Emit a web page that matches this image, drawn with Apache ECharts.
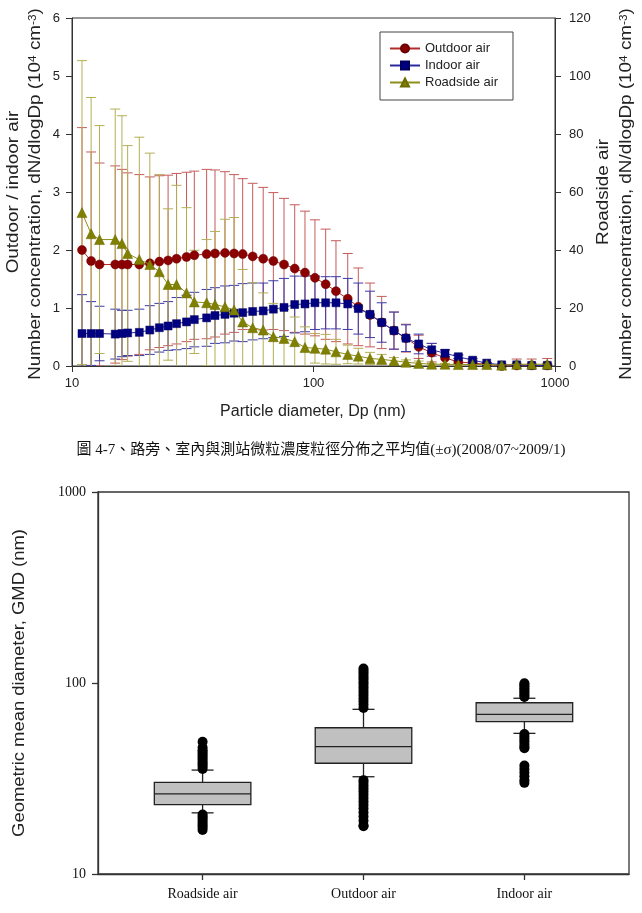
<!DOCTYPE html>
<html>
<head>
<meta charset="utf-8">
<script src="https://cdn.jsdelivr.net/npm/echarts@6/dist/echarts.min.js"></script>
<style>
  html, body { margin: 0; padding: 0; background: #fff; }
  #main { width: 642px; height: 913px; }
</style>
</head>
<body>
<div id="main"></div>
<script>
// 粒徑 (nm)
var diameters = [11.0, 12.0, 13.0, 15.1, 16.1, 17.0, 19.0, 21.0, 23.0, 25.0, 27.1, 29.8, 32.1, 36.1, 39.1,
  43.0, 46.9, 50.9, 56.0, 61.9, 68.2, 75.5, 83.6, 92.2, 101.4, 112.3, 123.9, 138.6, 153.3, 171.4,
  191.6, 215.4, 241.5, 272.6, 308.6, 350.4, 397.8, 456.0, 521.6, 601.6, 694.1, 800.8, 929.0];

// 10^4 cm^-3, left axis
var outdoorMean = [2.00, 1.81, 1.75, 1.75, 1.75, 1.75, 1.75, 1.77, 1.80, 1.82, 1.85, 1.88, 1.91, 1.93, 1.94,
  1.95, 1.94, 1.93, 1.89, 1.85, 1.81, 1.75, 1.68, 1.61, 1.52, 1.41, 1.29, 1.16, 1.02, 0.88,
  0.75, 0.61, 0.48, 0.33, 0.23, 0.14, 0.07, 0.05, 0.03, 0.00, 0.01, 0.01, 0.01];
var outdoorSd = [2.11, 1.88, 1.75, 1.70, 1.64, 1.58, 1.55, 1.49, 1.48, 1.47, 1.47, 1.46, 1.45, 1.46, 1.44,
  1.40, 1.36, 1.30, 1.26, 1.23, 1.18, 1.14, 1.10, 1.06, 1.00, 0.95, 0.87, 0.78, 0.67, 0.55,
  0.45, 0.32, 0.24, 0.20, 0.16, 0.14, 0.12, 0.05, 0.03, 0.02, 0.11, 0.11, 0.12];
var indoorMean = [0.56, 0.56, 0.56, 0.55, 0.56, 0.57, 0.58, 0.62, 0.66, 0.69, 0.73, 0.76, 0.80, 0.83, 0.87,
  0.89, 0.91, 0.92, 0.94, 0.95, 0.98, 1.01, 1.06, 1.07, 1.09, 1.09, 1.09, 1.07, 0.99, 0.89,
  0.75, 0.61, 0.48, 0.38, 0.28, 0.22, 0.16, 0.10, 0.05, 0.02, 0.02, 0.01, 0.01];
var indoorSd = [0.67, 0.55, 0.47, 0.43, 0.40, 0.39, 0.40, 0.42, 0.42, 0.42, 0.45, 0.46, 0.47, 0.49, 0.48,
  0.49, 0.48, 0.50, 0.49, 0.48, 0.49, 0.50, 0.49, 0.48, 0.46, 0.45, 0.45, 0.44, 0.44, 0.40,
  0.34, 0.32, 0.23, 0.17, 0.11, 0.06, 0.03, 0.03, 0.01, 0.01, 0.01, 0.01, 0.01];
// right axis
var roadsideMean = [52.9, 45.6, 43.6, 43.6, 42.2, 38.8, 36.7, 35.0, 32.5, 28.1, 28.1, 25.2, 22.1, 21.8, 21.2,
  20.4, 19.3, 15.2, 13.2, 12.4, 10.1, 9.5, 8.4, 6.4, 6.1, 5.8, 4.9, 4.0, 3.4, 2.6,
  2.3, 1.8, 1.3, 0.9, 0.6, 0.6, 0.5, 0.5, 0.5, 0.3, 0.6, 0.6, 0.6];
var roadsideSd = [52.4, 47.0, 39.3, 45.0, 44.1, 37.2, 42.2, 38.4, 33.5, 26.1, 34.2, 29.4, 17.8, 21.8, 25.2,
  30.2, 31.9, 18.1, 15.5, 12.8, 11.5, 10.0, 8.5, 7.1, 5.1, 5.1, 4.3, 3.2, 2.7, 2.1,
  1.7, 1.1, 0.8, 0.8, 0.3, 0.3, 0.3, 0.3, 0.3, 0.3, 0.3, 0.3, 0.3];

// box plot (GMD, nm)
var boxCategories = ['Roadside air', 'Outdoor air', 'Indoor air'];
// [下鬚, Q1, 中位數, Q3, 上鬚]
var roadsideBox = [20.9, 23.1, 26.3, 30.2, 35.0];
var outdoorBox = [32.3, 38.0, 46.4, 58.3, 72.8];
var indoorBox = [54.5, 62.7, 68.5, 78.8, 83.2];
var roadsideOutliers = [35.5, 36.5, 37.5, 38.5, 39.5, 40.5, 41.5, 42.5, 43.5, 44.5, 46, 49.3,
  20.5, 20, 19.5, 19, 18.5, 18, 17.5, 17];
var outdoorOutliers = [74, 77, 80, 83, 86, 89, 92, 95, 98, 101, 104, 107, 110, 113, 116, 119,
  31, 30, 29, 28, 27, 26, 25, 24, 23, 22, 21, 20, 19, 18, 17.8];
var indoorOutliers = [84.5, 86, 88, 90, 92, 94, 96, 98, 99.6,
  54, 52.5, 51, 49.5, 48, 46.5, 45.5,
  37, 35.5, 34, 32.5, 31, 30];

var sans = '"Liberation Sans", Arial, sans-serif';
var serif = '"Liberation Serif", "Times New Roman", serif';
var axisColor = '#333';

function errData(mean, sd) {
  return diameters.map(function (d, i) { return [d, mean[i] - sd[i], mean[i] + sd[i]]; });
}
function lineData(mean) {
  return diameters.map(function (d, i) { return [d, mean[i]]; });
}
function plainNum(v) { return String(v); }

function errRender(color) {
  return function (params, api) {
    var x = api.value(0);
    var top = api.coord([x, api.value(2)]);
    var bot = api.coord([x, api.value(1)]);
    var w = 5;
    var st = { stroke: color, lineWidth: 1, fill: null };
    return {
      type: 'group',
      children: [
        { type: 'line', shape: { x1: top[0], y1: top[1], x2: bot[0], y2: bot[1] }, style: st },
        { type: 'line', shape: { x1: top[0] - w, y1: top[1], x2: top[0] + w, y2: top[1] }, style: st },
        { type: 'line', shape: { x1: bot[0] - w, y1: bot[1], x2: bot[0] + w, y2: bot[1] }, style: st }
      ]
    };
  };
}
function boxRender(params, api) {
  var x = api.value(0);
  var lo = api.value(1), q1 = api.value(2), med = api.value(3), q3 = api.value(4), hi = api.value(5);
  var l = api.coord([x - 0.3, q1])[0], r = api.coord([x + 0.3, q1])[0];
  var cx = api.coord([x, q1])[0];
  var yLo = api.coord([x, lo])[1], yQ1 = api.coord([x, q1])[1], yMed = api.coord([x, med])[1];
  var yQ3 = api.coord([x, q3])[1], yHi = api.coord([x, hi])[1];
  var cw = 11;
  var st = { stroke: '#222', lineWidth: 1.3, fill: null };
  return {
    type: 'group',
    children: [
      { type: 'line', shape: { x1: cx, y1: yQ3, x2: cx, y2: yHi }, style: st },
      { type: 'line', shape: { x1: cx - cw, y1: yHi, x2: cx + cw, y2: yHi }, style: st },
      { type: 'line', shape: { x1: cx, y1: yQ1, x2: cx, y2: yLo }, style: st },
      { type: 'line', shape: { x1: cx - cw, y1: yLo, x2: cx + cw, y2: yLo }, style: st },
      { type: 'rect', shape: { x: l, y: yQ3, width: r - l, height: yQ1 - yQ3 },
        style: { fill: '#c0c0c0', stroke: '#222', lineWidth: 1.3 } },
      { type: 'line', shape: { x1: l, y1: yMed, x2: r, y2: yMed }, style: st }
    ]
  };
}

var chart = echarts.init(document.getElementById('main'), null, { renderer: 'canvas' });

var supRich = {
  sup: { fontSize: 10, fontFamily: sans, verticalAlign: 'top', padding: [0, 0, 6, 0] }
};

var option = {
  backgroundColor: '#fff',
  animation: false,
  textStyle: { fontFamily: sans },
  grid: [
    { left: 72, top: 18, width: 483, height: 348, show: true, borderColor: axisColor, borderWidth: 1 },
    { left: 98, top: 492, width: 531, height: 382, show: true, borderColor: axisColor, borderWidth: 1.3 }
  ],
  legend: {
    data: ['Outdoor air', 'Indoor air', 'Roadside air'],
    orient: 'vertical',
    left: 380,
    top: 32,
    padding: [10, 15, 11, 9],
    itemGap: 4,
    itemWidth: 30,
    itemHeight: 10,
    borderColor: '#444',
    borderWidth: 1,
    textStyle: { fontSize: 13, fontFamily: sans, color: '#222' }
  },
  xAxis: [
    {
      type: 'log', logBase: 10, min: 10, max: 1000, gridIndex: 0,
      axisLine: { lineStyle: { color: axisColor } },
      axisTick: { inside: false, length: 6, lineStyle: { color: axisColor } },
      axisLabel: { fontSize: 13, fontFamily: sans, color: '#222', margin: 11, formatter: plainNum },
      splitLine: { show: false }
    },
    {
      type: 'value', min: 0.35, max: 3.65, gridIndex: 1,
      axisLine: { lineStyle: { color: axisColor, width: 1.3 } },
      axisTick: { inside: false, length: 6, customValues: [1, 2, 3], lineStyle: { color: axisColor, width: 1.3 } },
      axisLabel: {
        customValues: [1, 2, 3], fontSize: 14, fontFamily: serif, color: '#111', margin: 13,
        formatter: function (v) { return boxCategories[Math.round(v) - 1]; }
      },
      splitLine: { show: false }
    }
  ],
  yAxis: [
    {
      type: 'value', min: 0, max: 6, interval: 1, gridIndex: 0,
      axisLine: { show: true, lineStyle: { color: axisColor } },
      axisTick: { show: true, inside: false, length: 6, lineStyle: { color: axisColor } },
      axisLabel: { fontSize: 13, fontFamily: sans, color: '#222', margin: 12 },
      splitLine: { show: false }
    },
    {
      type: 'value', min: 0, max: 120, interval: 20, gridIndex: 0, position: 'right',
      axisLine: { show: true, lineStyle: { color: axisColor } },
      axisTick: { show: true, inside: false, length: 6, lineStyle: { color: axisColor } },
      axisLabel: { fontSize: 13, fontFamily: sans, color: '#222', margin: 14 },
      splitLine: { show: false }
    },
    {
      type: 'log', logBase: 10, min: 10, max: 1000, gridIndex: 1,
      axisLine: { show: true, lineStyle: { color: axisColor, width: 1.3 } },
      axisTick: { show: true, inside: false, length: 6, lineStyle: { color: axisColor, width: 1.3 } },
      axisLabel: { fontSize: 14, fontFamily: serif, color: '#111', margin: 12, formatter: plainNum },
      splitLine: { show: false }
    }
  ],
  graphic: [
    {
      type: 'text', x: 14, y: 192, rotation: Math.PI / 2, scaleX: 1.18,
      style: { text: 'Outdoor / indoor air', fontSize: 16, fontFamily: sans, fill: '#222', align: 'center', verticalAlign: 'middle' }
    },
    {
      type: 'text', x: 36, y: 194, rotation: Math.PI / 2, scaleX: 1.18,
      style: {
        text: 'Number concentration, dN/dlogDp (10{sup|4} cm{sup|-3})',
        fontSize: 16, fontFamily: sans, fill: '#222', align: 'center', verticalAlign: 'middle', rich: supRich
      }
    },
    {
      type: 'text', x: 604, y: 192, rotation: Math.PI / 2, scaleX: 1.18,
      style: { text: 'Roadside air', fontSize: 16, fontFamily: sans, fill: '#222', align: 'center', verticalAlign: 'middle' }
    },
    {
      type: 'text', x: 627, y: 194, rotation: Math.PI / 2, scaleX: 1.18,
      style: {
        text: 'Number concentration, dN/dlogDp (10{sup|4} cm{sup|-3})',
        fontSize: 16, fontFamily: sans, fill: '#222', align: 'center', verticalAlign: 'middle', rich: supRich
      }
    },
    {
      type: 'text', x: 313, y: 412,
      style: { text: 'Particle diameter, Dp (nm)', fontSize: 16, fontFamily: sans, fill: '#222', align: 'center', verticalAlign: 'middle' }
    },
    {
      type: 'text', x: 321, y: 450,
      style: {
        text: '圖 4-7、路旁、室內與測站微粒濃度粒徑分佈之平均值(±σ)(2008/07~2009/1)',
        fontSize: 15, fontFamily: '"Liberation Serif", "Noto Sans CJK TC", serif', fill: '#111',
        align: 'center', verticalAlign: 'middle'
      }
    },
    {
      type: 'text', x: 20, y: 683, rotation: Math.PI / 2, scaleX: 1.15,
      style: { text: 'Geometric mean diameter, GMD (nm)', fontSize: 16, fontFamily: sans, fill: '#222', align: 'center', verticalAlign: 'middle' }
    }
  ],
  series: [
    {
      name: 'outdoorErr', type: 'custom', xAxisIndex: 0, yAxisIndex: 0, clip: true,
      renderItem: errRender('#c65a5a'), encode: { x: 0, y: [1, 2] }, data: errData(outdoorMean, outdoorSd), z: 2
    },
    {
      name: 'indoorErr', type: 'custom', xAxisIndex: 0, yAxisIndex: 0, clip: true,
      renderItem: errRender('#3b3bab'), encode: { x: 0, y: [1, 2] }, data: errData(indoorMean, indoorSd), z: 2
    },
    {
      name: 'roadsideErr', type: 'custom', xAxisIndex: 0, yAxisIndex: 1, clip: true,
      renderItem: errRender('#b3af55'), encode: { x: 0, y: [1, 2] }, data: errData(roadsideMean, roadsideSd), z: 2
    },
    {
      name: 'Outdoor air', type: 'line', xAxisIndex: 0, yAxisIndex: 0,
      symbol: 'circle', symbolSize: 9, showAllSymbol: true,
      itemStyle: { color: '#8b0000', borderColor: '#6a0000', borderWidth: 0.5 },
      lineStyle: { color: '#b52a2a', width: 1 },
      data: lineData(outdoorMean), z: 3
    },
    {
      name: 'Indoor air', type: 'line', xAxisIndex: 0, yAxisIndex: 0,
      symbol: 'rect', symbolSize: 8, showAllSymbol: true,
      itemStyle: { color: '#000080', borderColor: '#000060', borderWidth: 0.5 },
      lineStyle: { color: '#2a2aa0', width: 1 },
      data: lineData(indoorMean), z: 4
    },
    {
      name: 'Roadside air', type: 'line', xAxisIndex: 0, yAxisIndex: 1,
      symbol: 'triangle', symbolSize: 10, showAllSymbol: true,
      itemStyle: { color: '#808000', borderColor: '#6b6b00', borderWidth: 0.5 },
      lineStyle: { color: '#8e8e1a', width: 1 },
      data: lineData(roadsideMean), z: 5
    },
    {
      name: 'boxes', type: 'custom', xAxisIndex: 1, yAxisIndex: 2,
      renderItem: boxRender, encode: { x: 0, y: [1, 2, 3, 4, 5] },
      data: [[1].concat(roadsideBox), [2].concat(outdoorBox), [3].concat(indoorBox)], z: 2
    },
    {
      name: 'outliers', type: 'scatter', xAxisIndex: 1, yAxisIndex: 2,
      symbol: 'circle', symbolSize: 10, itemStyle: { color: '#000', opacity: 1 },
      data: roadsideOutliers.map(function (v) { return [1, v]; })
        .concat(outdoorOutliers.map(function (v) { return [2, v]; }))
        .concat(indoorOutliers.map(function (v) { return [3, v]; })),
      z: 3
    }
  ]
};

chart.setOption(option);
</script>
</body>
</html>
